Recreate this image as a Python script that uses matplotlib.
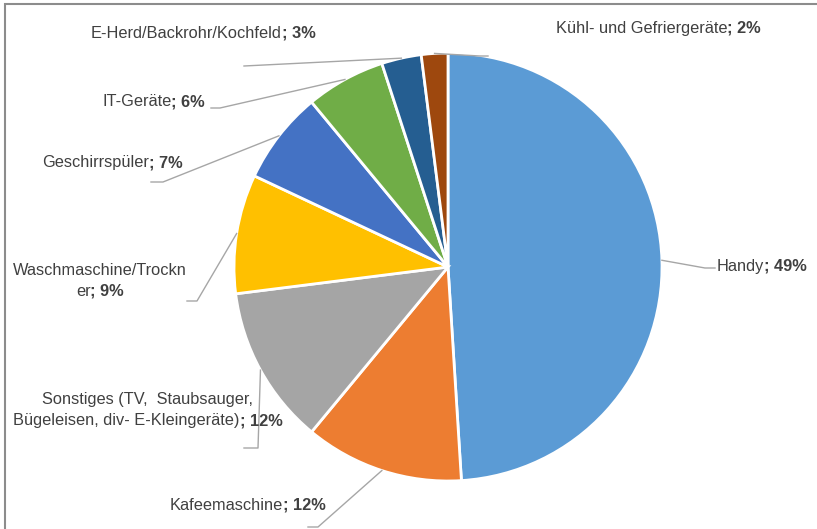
import numpy as np
import matplotlib
matplotlib.use("Agg")
import matplotlib.pyplot as plt
from matplotlib.patches import Rectangle

# data (share in %), clockwise from 12 o'clock
names = ["Handy", "Kafeemaschine", "Sonstiges (TV,  Staubsauger,\nBügeleisen, div- E-Kleingeräte)",
         "Waschmaschine/Trockn\ner", "Geschirrspüler", "IT-Geräte",
         "E-Herd/Backrohr/Kochfeld", "Kühl- und Gefriergeräte"]
shares = [49, 12, 12, 9, 7, 6, 3, 2]
colors = ["#5B9BD5", "#ED7D31", "#A5A5A5", "#FFC000", "#4472C4", "#70AD47", "#255E91", "#9E480E"]

# label layout in pixels (from top-left): anchor x, y, alignment
label_pos = [(717, 266, "left"), (248, 505, "center"), (148, 410, "center"),
             (100, 281, "center"), (183, 163, "right"), (205, 102, "right"),
             (203, 33, "center"), (556, 28, "left")]
# leader line bends / ends in pixels
leader_pts = [[(705, 268), (715, 268)], [(318, 527), (308, 527)], [(258, 448), (244, 448)],
              [(197, 301), (187, 301)], [(163, 182), (151, 182)], [(220, 108), (211, 108)],
              [(244, 66)], [(480, 56), (488, 56)]]

W, H = 817, 529
cx, cy, R = 448, 267, 214

fig = plt.figure(figsize=(W / 100, H / 100), dpi=100)
ax = fig.add_axes([0, 0, 1, 1])

ax.pie(shares, colors=colors, startangle=90, counterclock=False,
       center=(cx, H - cy), radius=R, frame=True,
       wedgeprops=dict(edgecolor="white", linewidth=2))
ax.set_xlim(0, W)
ax.set_ylim(0, H)
ax.axis("off")

# chart frame
fig.patches.append(Rectangle((5 / W, -0.1), 1.2, (H - 4) / H + 0.1, transform=fig.transFigure,
                             fill=False, edgecolor="#8C8C8C", linewidth=1.5))

fig.canvas.draw()
renderer = fig.canvas.get_renderer()
tcol = "#404040"
font = dict(family=["Liberation Sans", "DejaVu Sans"], size=11.8, color=tcol)


def width_of(s, bold=False):
    t = ax.text(0, 0, s, fontweight="bold" if bold else "normal", **font)
    w = t.get_window_extent(renderer).width
    t.remove()
    return w


def draw_label(x, y, plain, bold, ha, line_h=21):
    lines = plain.split("\n")
    n = len(lines)
    for i, ln in enumerate(lines):
        yy = y - (n - 1) * line_h / 2 + i * line_h
        last = i == n - 1
        w1 = width_of(ln)
        w2 = width_of(bold, True) if last else 0
        tot = w1 + w2
        left = {"left": x, "center": x - tot / 2, "right": x - tot}[ha]
        ax.text(left, H - yy, ln, ha="left", va="center", **font)
        if last:
            ax.text(left + w1, H - yy, bold, ha="left", va="center", fontweight="bold", **font)


cum = np.cumsum([0] + shares)
for i, name in enumerate(names):
    mid = (cum[i] + cum[i + 1]) / 2 / 100 * 2 * np.pi
    sx, sy = cx + R * np.sin(mid), cy - R * np.cos(mid)
    pts = [(sx, sy)] + leader_pts[i]
    ax.plot([p[0] for p in pts], [H - p[1] for p in pts], color="#A6A6A6", linewidth=1)
    lx, ly, ha = label_pos[i]
    draw_label(lx, ly, name, "; %d%%" % shares[i], ha)

fig.savefig("out.png", dpi=100)
